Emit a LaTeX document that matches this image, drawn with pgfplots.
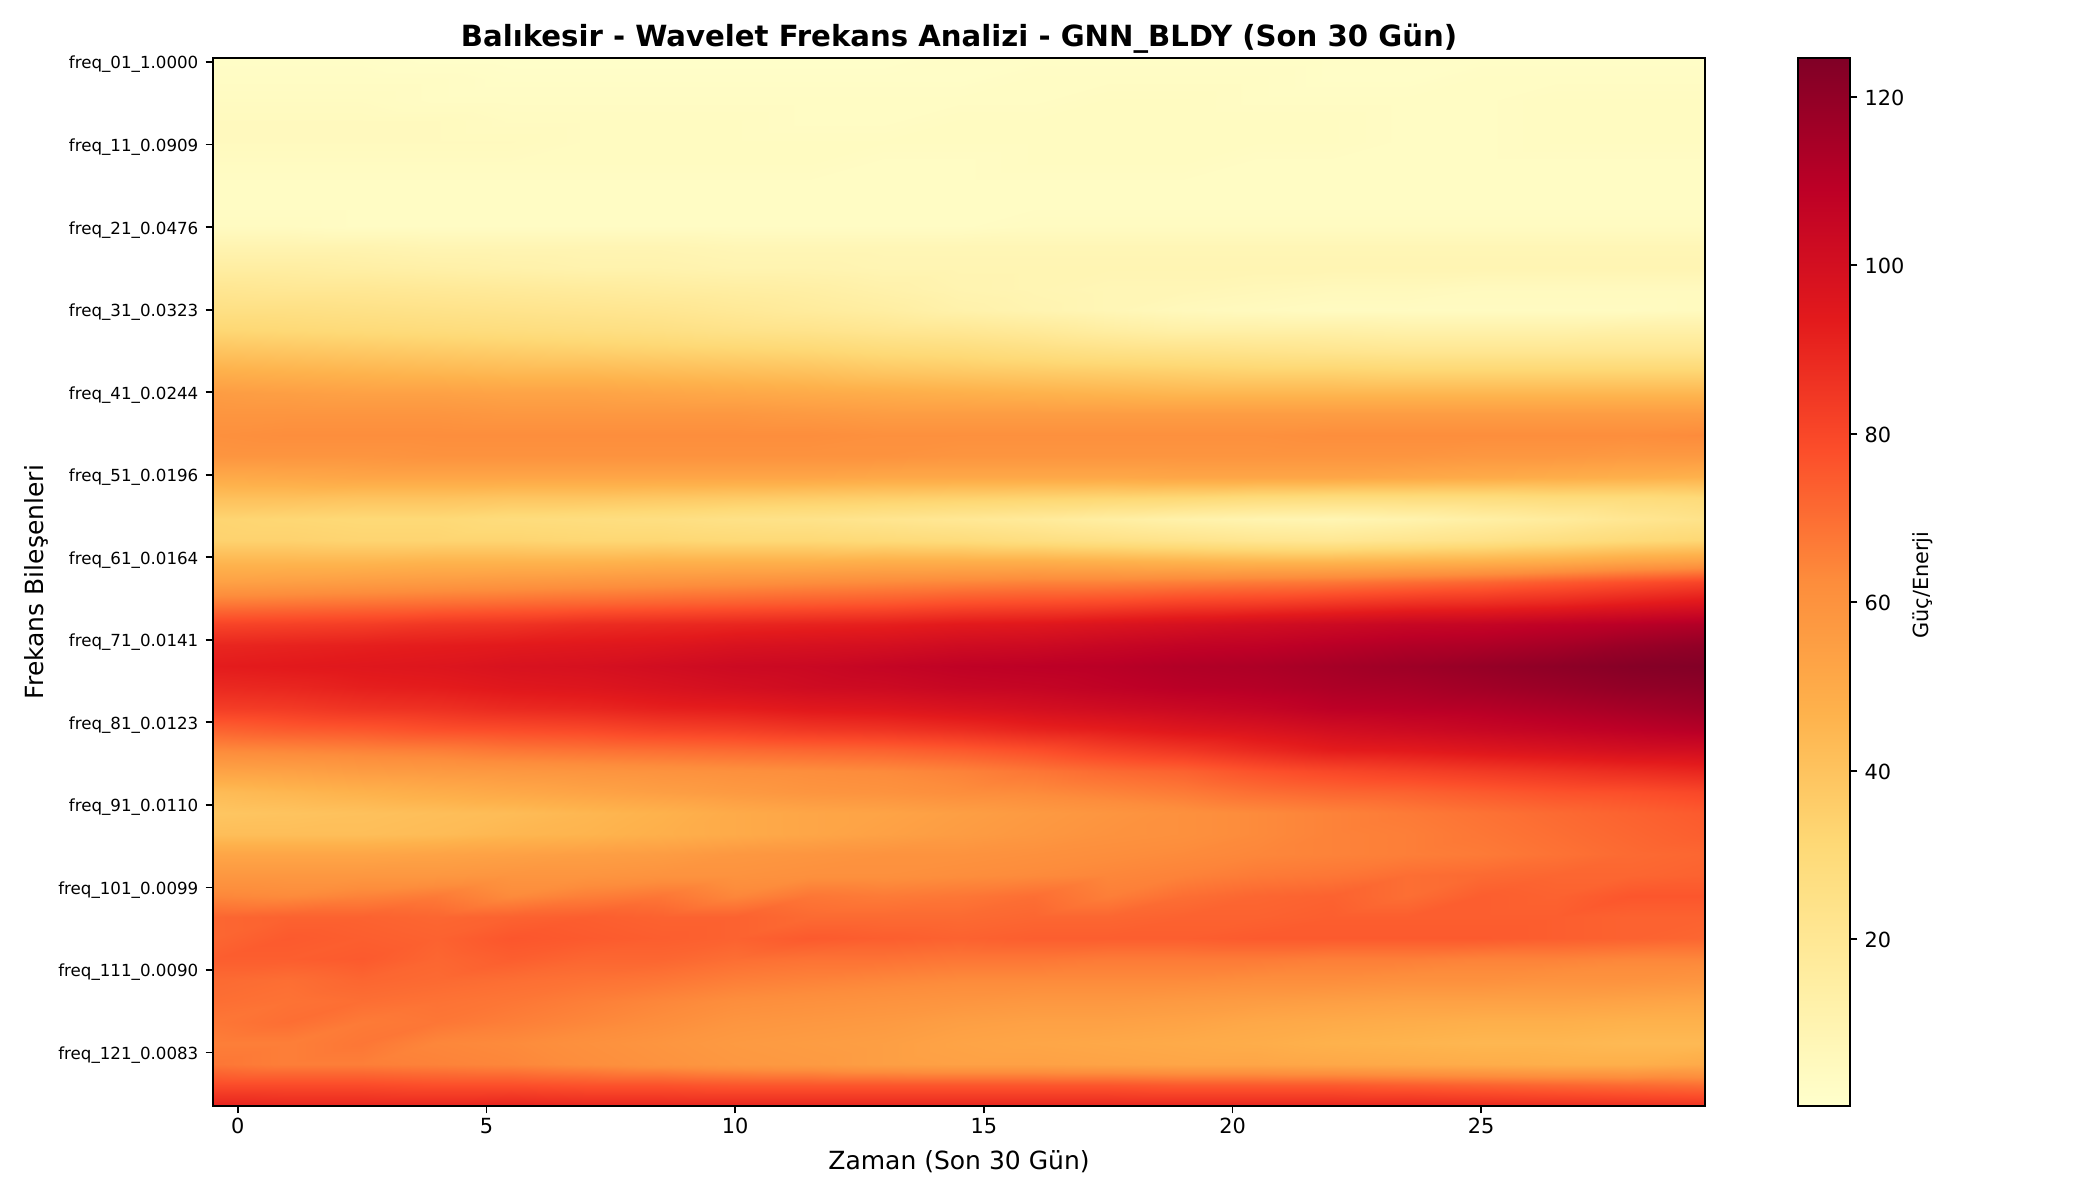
\documentclass[border=0pt]{standalone}
\usepackage{fontspec}
\setmainfont{DejaVu Sans}
\usepackage{pgfplots}
\pgfplotsset{compat=1.18}
\newcount\rowi \newcount\coli
\def\coords{}
\newcommand\R[1]{%
  \pgfmathsetmacro\yy{-0.5+2.54*\the\rowi}%
  \coli=0 %
  \pgfplotsforeachungrouped \v in {#1}{%
    \pgfmathsetmacro\xx{-0.5+1.5*\the\coli}%
    \xdef\coords{\coords (\xx,\yy) [\v]}%
    \advance\coli by 1 %
  }%
  \advance\rowi by 1 %
}
\R{2,2,2,1,1,1,1,1,1,1,2,2,2,2,2,2,2,2,2,2,2}
\R{3,3,3,3,2,2,2,2,2,2,2,3,3,3,3,2,2,3,3,3,3}
\R{4,4,4,3,3,3,3,3,3,3,3,3,4,4,3,3,3,3,4,4,4}
\R{5,5,5,5,4,4,4,4,3,3,4,4,4,4,4,4,3,3,4,4,4}
\R{5,5,5,5,5,4,4,4,4,4,4,4,4,4,4,4,3,3,4,4,4}
\R{4,4,4,4,4,4,4,4,4,3,3,4,4,4,3,3,3,3,3,3,3}
\R{3,3,3,3,3,3,3,3,3,3,3,3,3,3,3,3,3,3,3,3,3}
\R{3,3,3,3,3,3,3,3,3,3,3,3,3,3,3,3,3,3,3,3,3}
\R{4,4,3,3,3,3,3,3,3,3,3,4,4,4,4,4,4,4,4,4,4}
\R{10,10,10,9,9,9,9,8,8,8,8,8,8,8,8,8,8,8,8,8,8}
\R{15,15,14,13,12,11,11,10,10,9,9,9,9,9,9,9,9,9,9,9,9}
\R{21,20,20,19,18,17,16,15,14,12,10,9,8,8,7,6,6,5,5,5,5}
\R{26,26,25,24,23,22,21,19,17,15,12,10,8,6,5,4,4,4,4,4,5}
\R{32,31,30,29,28,27,26,24,23,21,20,18,15,13,13,13,12,12,12,13,13}
\R{40,39,38,37,36,35,34,33,32,30,29,27,25,24,23,22,21,21,21,21,21}
\R{48,47,46,45,44,44,43,42,41,39,38,37,36,35,34,34,33,33,33,33,33}
\R{56,55,54,54,53,53,52,51,50,49,48,47,46,45,45,45,45,45,45,45,45}
\R{59,59,59,59,58,58,58,58,57,56,56,56,56,56,56,56,56,56,56,56,56}
\R{61,62,62,62,62,62,62,62,62,61,61,61,61,61,61,62,62,62,62,62,63}
\R{59,59,59,60,60,60,60,60,60,60,59,59,59,59,59,59,59,58,58,57,57}
\R{50,51,52,52,52,52,52,52,52,51,51,51,51,52,52,52,51,50,49,48,47}
\R{41,41,40,40,39,39,38,37,36,35,34,33,32,31,29,28,28,28,29,29,30}
\R{33,32,31,31,29,28,27,25,24,22,20,18,15,12,10,9,11,14,17,21,24}
\R{34,34,33,33,33,32,32,31,31,30,29,27,25,23,21,20,22,24,27,30,32}
\R{45,45,45,46,46,46,47,47,47,48,48,48,47,46,45,45,46,47,49,52,54}
\R{54,55,56,57,58,59,60,61,62,63,64,65,65,66,67,68,70,72,75,78,81}
\R{67,68,69,70,71,72,73,74,75,76,78,79,80,82,83,85,87,88,90,93,96}
\R{81,82,83,85,86,88,89,90,91,92,94,95,97,99,101,103,105,106,108,110,112}
\R{90,91,92,93,94,95,96,98,99,100,102,103,105,107,108,110,112,113,115,118,120}
\R{93,94,95,96,98,99,101,103,104,106,108,109,110,112,113,115,117,119,121,123,124}
\R{89,90,92,93,95,96,98,100,102,103,105,106,108,110,111,113,114,116,118,120,121}
\R{83,84,86,87,89,90,92,93,95,96,98,100,102,104,106,109,110,111,113,115,117}
\R{73,75,76,78,79,80,82,83,85,86,88,91,93,96,98,101,103,105,107,109,111}
\R{63,64,65,66,68,69,70,71,72,73,75,78,82,85,89,93,94,96,98,100,101}
\R{53,54,56,57,58,59,60,61,62,63,65,68,71,73,77,80,82,84,86,88,90}
\R{43,45,47,49,51,53,55,57,59,60,62,63,65,67,70,72,73,75,77,78,80}
\R{39,40,41,42,43,45,47,50,52,53,55,57,59,61,63,65,67,69,71,73,75}
\R{42,42,42,43,45,46,48,50,52,54,56,58,60,61,63,65,66,68,70,72,74}
\R{52,52,52,53,54,55,56,58,59,60,60,61,62,63,64,65,66,67,69,71,72}
\R{58,58,58,58,59,59,60,60,61,61,62,63,64,65,67,68,70,71,72,72,73}
\R{64,63,65,67,63,66,68,64,68,67,68,70,66,70,72,73,70,74,73,76,76}
\R{72,73,73,72,73,74,73,73,71,71,71,72,72,73,73,74,74,74,74,73,73}
\R{72,75,74,73,76,75,74,73,75,74,73,74,74,74,75,75,75,75,74,73,72}
\R{74,74,75,72,74,72,72,70,69,69,68,68,67,67,67,66,66,65,65,64,64}
\R{71,70,72,71,70,69,68,66,65,64,63,63,63,63,62,62,61,61,60,60,59}
\R{70,69,70,69,68,66,64,62,61,60,59,58,58,57,56,55,54,54,54,53,52}
\R{68,70,67,68,66,64,62,59,58,57,55,54,54,53,51,50,49,48,48,47,47}
\R{66,66,68,64,63,61,59,57,56,55,53,52,51,50,49,47,46,45,45,44,44}
\R{68,66,66,65,64,62,60,58,57,55,54,54,53,52,52,51,50,49,48,48,50}
\R{79,79,79,78,78,77,77,76,76,76,76,76,76,75,75,75,74,73,72,71,70}
\R{91,90,90,90,91,90,90,90,90,90,90,90,90,90,90,90,90,89,88,87,86}
\pgfplotsset{
  ylorrdmap/.style={colormap={ylorrd}{rgb255=(255,255,204) rgb255=(255,237,160) rgb255=(254,217,118) rgb255=(254,178,76) rgb255=(253,141,60) rgb255=(252,78,42) rgb255=(227,26,28) rgb255=(189,0,38) rgb255=(128,0,38)},
  point meta min=0.2,point meta max=124.6},
  mplframe/.style={
    axis line style={line width=0.8pt},
    /pgf/number format/assume math mode=true,
    tick align=outside,major tick length=3.5pt,
    every tick/.style={black,line width=0.8pt},
    enlargelimits=false,axis on top,scale only axis,
    anchor=south west},
}
\begin{document}
\begin{tikzpicture}
\path[use as bounding box] (0,0) rectangle (1008pt,576pt);
\begin{axis}[
  mplframe,ylorrdmap,
  at={(102.24pt,45.12pt)},
  width=716.16pt,height=503.04pt,
  xmin=-0.5,xmax=29.5,ymin=-0.5,ymax=126.5,y dir=reverse,
  xtick pos=bottom,ytick pos=left,
  xtick={0,5,10,15,20,25},
  ytick={0,10,20,30,40,50,60,70,80,90,100,110,120},
  yticklabels={freq\_01\_1.0000,freq\_11\_0.0909,freq\_21\_0.0476,freq\_31\_0.0323,freq\_41\_0.0244,freq\_51\_0.0196,freq\_61\_0.0164,freq\_71\_0.0141,freq\_81\_0.0123,freq\_91\_0.0110,freq\_101\_0.0099,freq\_111\_0.0090,freq\_121\_0.0083},
  xticklabel style={font=\fontsize{10}{12}\selectfont,yshift=1.3pt},
  yticklabel style={font=\fontsize{8}{10}\selectfont,yshift=-1.2pt},
  title={\textbf{Balıkesir - Wavelet Frekans Analizi - GNN\_BLDY (Son 30 Gün)}},
  title style={font=\fontsize{14}{17}\selectfont,at={(0.5,1)},anchor=south,yshift=-7.3pt},
  xlabel={Zaman (Son 30 Gün)},
  ylabel={Frekans Bileşenleri},
  label style={font=\fontsize{12}{14}\selectfont},
  xlabel style={yshift=-1.3pt},
  ylabel style={at={(axis description cs:-0.1186,0.5)},anchor=center},
]
\edef\doplot{\noexpand\addplot[surf,shader=interp,mesh/rows=51,mesh/cols=21,point meta=explicit] coordinates {\coords};}
\doplot
\end{axis}
\begin{axis}[
  mplframe,ylorrdmap,
  at={(863.04pt,45.12pt)},
  width=24.96pt,height=503.04pt,
  xmin=0,xmax=1,ymin=0.2,ymax=124.6,
  xtick=\empty,
  ytick={20,40,60,80,100,120},ytick pos=right,yticklabel pos=right,
  yticklabel style={font=\fontsize{10}{12}\selectfont,yshift=-0.5pt},
  ylabel={Güç/Enerji},
  ylabel style={font=\fontsize{10}{12}\selectfont,at={(axis description cs:2.404,0.497)},anchor=center},
]
\addplot[surf,shader=interp,mesh/rows=9,mesh/cols=2,point meta=explicit] coordinates {
(0,0.2)[0.2] (1,0.2)[0.2]
(0,15.75)[15.75] (1,15.75)[15.75]
(0,31.3)[31.3] (1,31.3)[31.3]
(0,46.85)[46.85] (1,46.85)[46.85]
(0,62.4)[62.4] (1,62.4)[62.4]
(0,77.95)[77.95] (1,77.95)[77.95]
(0,93.5)[93.5] (1,93.5)[93.5]
(0,109.05)[109.05] (1,109.05)[109.05]
(0,124.6)[124.6] (1,124.6)[124.6]
};
\end{axis}
\end{tikzpicture}
\end{document}
